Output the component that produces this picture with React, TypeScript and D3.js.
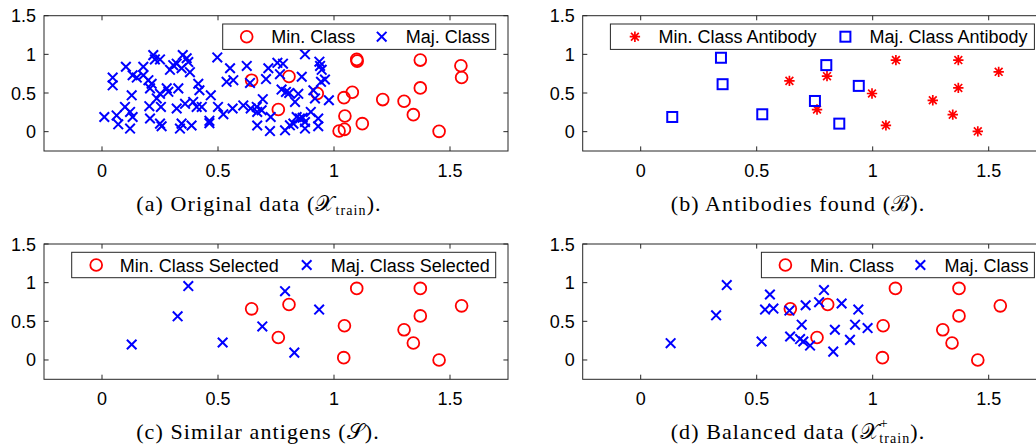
import React, { useEffect, useRef } from 'react';
import * as d3 from 'd3';

type Pt = [number, number];

// axis ticks shared by all four panels
const xTicks = [0, 0.5, 1, 1.5];
const yTicks = [0, 0.5, 1, 1.5];
const tickLabels = ['0', '0.5', '1', '1.5'];

// (a) original data
const originalMinority: Pt[] = [
  [0.645, 0.666], [0.806, 0.714], [0.76, 0.286], [0.928, 0.493], [1.098, 0.935],
  [1.10, 0.913], [1.079, 0.51], [1.043, 0.44], [1.047, 0.203], [1.022, 0.008],
  [1.045, 0.03], [1.122, 0.104], [1.21, 0.415], [1.302, 0.393], [1.342, 0.22],
  [1.372, 0.926], [1.372, 0.566], [1.453, 0.004], [1.547, 0.852], [1.55, 0.70],
];
const originalMajority: Pt[] = [
  [0.01, 0.19], [0.046, 0.70], [0.046, 0.60], [0.063, 0.21], [0.07, 0.095],
  [0.103, 0.84], [0.099, 0.32], [0.121, 0.255], [0.128, 0.47], [0.121, 0.04],
  [0.132, 0.19], [0.132, 0.73], [0.15, 0.70], [0.178, 0.84], [0.178, 0.73],
  [0.2, 0.666], [0.207, 0.56], [0.214, 0.62], [0.204, 0.33], [0.207, 0.17],
  [0.221, 0.99], [0.228, 0.935], [0.25, 0.935], [0.236, 0.43], [0.25, 0.49],
  [0.254, 0.32], [0.25, 0.104], [0.257, 0.07], [0.279, 0.56], [0.286, 0.515],
  [0.293, 0.80], [0.307, 0.86], [0.322, 0.88], [0.329, 0.56], [0.322, 0.30],
  [0.336, 0.04], [0.343, 0.104], [0.343, 0.82], [0.348, 0.99], [0.365, 0.95],
  [0.358, 0.36], [0.372, 0.90], [0.379, 0.77], [0.386, 0.08], [0.393, 0.385],
  [0.408, 0.32], [0.415, 0.62], [0.42, 0.536], [0.43, 0.32], [0.469, 0.47],
  [0.463, 0.11], [0.463, 0.14], [0.497, 0.96], [0.50, 0.32], [0.523, 0.225],
  [0.537, 0.645], [0.552, 0.82], [0.566, 0.666], [0.563, 0.30], [0.624, 0.85],
  [0.609, 0.34], [0.638, 0.63], [0.641, 0.30], [0.667, 0.32], [0.669, 0.08],
  [0.693, 0.42], [0.688, 0.277], [0.669, 0.255], [0.717, 0.82], [0.707, 0.68],
  [0.727, 0.19], [0.724, 0.008], [0.756, 0.89], [0.78, 0.88], [0.767, 0.744],
  [0.774, 0.545], [0.793, 0.514], [0.807, 0.50], [0.832, 0.385], [0.846, 0.49],
  [0.861, 0.71], [0.875, 1.00], [0.911, 0.536], [0.918, 0.43], [0.937, 0.905],
  [0.94, 0.85], [0.947, 0.80], [0.961, 0.675], [0.944, 0.645], [0.978, 0.406],
  [0.789, 0.017], [0.81, 0.082], [0.825, 0.104], [0.839, 0.19], [0.853, 0.17],
  [0.865, 0.18], [0.875, 0.04], [0.875, 0.125], [0.9, 0.255], [0.932, 0.17],
  [0.932, 0.07],
];

// (b) antibodies
const antibodyMinority: Pt[] = [
  [0.641, 0.657], [0.803, 0.718], [0.76, 0.286], [0.997, 0.494], [1.10, 0.926],
  [1.057, 0.082], [1.259, 0.406], [1.345, 0.22], [1.369, 0.926], [1.369, 0.566],
  [1.453, 0.004], [1.543, 0.774],
];
const antibodyMajority: Pt[] = [
  [0.136, 0.19], [0.346, 0.956], [0.353, 0.614], [0.524, 0.225],
  [0.80, 0.861], [0.751, 0.397], [0.856, 0.104], [0.94, 0.592],
];

// (c) similar antigens
const selectedMinority: Pt[] = [
  [0.645, 0.661], [0.806, 0.717], [0.76, 0.29], [1.098, 0.926], [1.045, 0.443],
  [1.042, 0.03], [1.302, 0.39], [1.342, 0.22], [1.372, 0.926], [1.372, 0.57],
  [1.453, 0.0], [1.55, 0.70],
];
const selectedMajority: Pt[] = [
  [0.128, 0.2], [0.326, 0.565], [0.372, 0.956], [0.52, 0.226],
  [0.691, 0.434], [0.789, 0.89], [0.829, 0.095], [0.936, 0.652],
];

// (d) balanced data
const balancedMinority: Pt[] = selectedMinority;
const balancedMajority: Pt[] = [
  [0.129, 0.217], [0.325, 0.578], [0.371, 0.969], [0.521, 0.239], [0.557, 0.847],
  [0.536, 0.652], [0.572, 0.665], [0.641, 0.639], [0.711, 0.708], [0.79, 0.904],
  [0.769, 0.747], [0.866, 0.73], [0.938, 0.652], [0.694, 0.456], [0.924, 0.456],
  [0.978, 0.413], [0.837, 0.391], [0.644, 0.304], [0.687, 0.27], [0.701, 0.239],
  [0.73, 0.186], [0.902, 0.26], [0.83, 0.108],
];

const RED = '#ff0000';
const BLUE = '#0000ff';
const AXIS = '#262626';
const SANS = '"Liberation Sans", Arial, Helvetica, sans-serif';
const SERIF = '"Liberation Serif", "Times New Roman", serif';

type Marker = 'circle' | 'cross' | 'square' | 'star';

function drawMarker(g: any, kind: Marker, cx: number, cy: number) {
  if (kind === 'circle') {
    g.append('circle').attr('cx', cx).attr('cy', cy).attr('r', 5.9)
      .attr('fill', 'none').attr('stroke', RED).attr('stroke-width', 1.8);
  } else if (kind === 'cross') {
    const s = 4.8;
    g.append('path')
      .attr('d', `M${cx - s},${cy - s}L${cx + s},${cy + s}M${cx - s},${cy + s}L${cx + s},${cy - s}`)
      .attr('stroke', BLUE).attr('stroke-width', 2).attr('fill', 'none');
  } else if (kind === 'square') {
    g.append('rect').attr('x', cx - 5).attr('y', cy - 5).attr('width', 10).attr('height', 10)
      .attr('fill', 'none').attr('stroke', BLUE).attr('stroke-width', 2);
  } else {
    const s = 5.2, d = 3.9;
    g.append('path')
      .attr('d', `M${cx - s},${cy}L${cx + s},${cy}M${cx},${cy - s}L${cx},${cy + s}` +
        `M${cx - d},${cy - d}L${cx + d},${cy + d}M${cx - d},${cy + d}L${cx + d},${cy - d}`)
      .attr('stroke', RED).attr('stroke-width', 1.7).attr('fill', 'none');
  }
}

type Series = { data: Pt[]; marker: Marker; label: string };
type Part = { t: string; sub?: boolean; sup?: boolean };

const panels = [
  {
    left: 44, top: 15.7,
    series: [
      { data: originalMinority, marker: 'circle', label: 'Min. Class' },
      { data: originalMajority, marker: 'cross', label: 'Maj. Class' },
    ] as Series[],
    legend: { width: 273, offs: [24, 48.5, 159, 183] },
    captionX: 259,
    caption: [{ t: '(a) Original data (𝒳' }, { t: 'train', sub: true }, { t: ').' }] as Part[],
  },
  {
    left: 582.7, top: 15.7,
    series: [
      { data: antibodyMinority, marker: 'star', label: 'Min. Class Antibody' },
      { data: antibodyMajority, marker: 'square', label: 'Maj. Class Antibody' },
    ] as Series[],
    legend: { width: 424, offs: [24.5, 48, 235, 259] },
    captionX: 798,
    caption: [{ t: '(b) Antibodies found (ℬ).' }] as Part[],
  },
  {
    left: 44, top: 244,
    series: [
      { data: selectedMinority, marker: 'circle', label: 'Min. Class Selected' },
      { data: selectedMajority, marker: 'cross', label: 'Maj. Class Selected' },
    ] as Series[],
    legend: { width: 424, offs: [24.5, 48, 235, 259] },
    captionX: 258,
    caption: [{ t: '(c) Similar antigens (𝒮).' }] as Part[],
  },
  {
    left: 582.7, top: 244,
    series: [
      { data: balancedMinority, marker: 'circle', label: 'Min. Class' },
      { data: balancedMajority, marker: 'cross', label: 'Maj. Class' },
    ] as Series[],
    legend: { width: 273, offs: [24, 48.5, 159, 183] },
    captionX: 798,
    caption: [{ t: '(d) Balanced data (𝒳' }, { t: '+', sup: true }, { t: 'train', sub: true }, { t: ').' }] as Part[],
  },
];

export default function App() {
  const svgRef = useRef<SVGSVGElement>(null);

  useEffect(() => {
    const svg = d3.select(svgRef.current);
    svg.selectAll('*').remove();

    const W = 464, H = 135.3;

    panels.forEach((p) => {
      const x = d3.scaleLinear().domain([-0.25, 1.75]).range([p.left, p.left + W]);
      const y = d3.scaleLinear().domain([-0.25, 1.5]).range([p.top + H, p.top]);
      const g = svg.append('g');

      // box
      g.append('rect').attr('x', p.left).attr('y', p.top).attr('width', W).attr('height', H)
        .attr('fill', 'white').attr('stroke', AXIS).attr('stroke-width', 1);

      // ticks, inward on all sides
      const tl = 4.6;
      xTicks.forEach((t, i) => {
        const px = x(t);
        g.append('line').attr('x1', px).attr('x2', px).attr('y1', p.top + H).attr('y2', p.top + H - tl)
          .attr('stroke', AXIS);
        g.append('line').attr('x1', px).attr('x2', px).attr('y1', p.top).attr('y2', p.top + tl)
          .attr('stroke', AXIS);
        g.append('text').attr('x', px).attr('y', p.top + H + 26).attr('text-anchor', 'middle')
          .attr('font-family', SANS).attr('font-size', 18).attr('fill', '#000').text(tickLabels[i]);
      });
      yTicks.forEach((t, i) => {
        const py = y(t);
        g.append('line').attr('x1', p.left).attr('x2', p.left + tl).attr('y1', py).attr('y2', py)
          .attr('stroke', AXIS);
        g.append('line').attr('x1', p.left + W).attr('x2', p.left + W - tl).attr('y1', py).attr('y2', py)
          .attr('stroke', AXIS);
        g.append('text').attr('x', p.left - 8).attr('y', py + 6.5).attr('text-anchor', 'end')
          .attr('font-family', SANS).attr('font-size', 18).attr('fill', '#000').text(tickLabels[i]);
      });

      // points
      p.series.forEach((s) => {
        const sg = g.append('g');
        s.data.forEach((d) => drawMarker(sg, s.marker, x(d[0]), y(d[1])));
      });

      // legend
      const lx = p.left + W - 12.3 - p.legend.width;
      const ly = p.top + 8.3;
      const lh = 25.4;
      const lg = g.append('g');
      lg.append('rect').attr('x', lx).attr('y', ly).attr('width', p.legend.width).attr('height', lh)
        .attr('fill', 'white').attr('stroke', AXIS).attr('stroke-width', 1);
      p.series.forEach((s, i) => {
        drawMarker(lg, s.marker, lx + p.legend.offs[i * 2], ly + lh / 2);
        lg.append('text').attr('x', lx + p.legend.offs[i * 2 + 1]).attr('y', ly + lh / 2 + 6.5)
          .attr('font-family', SANS).attr('font-size', 18).attr('fill', '#000').text(s.label);
      });

      // caption
      const cy = p.top + H + 59.5;
      const txt = svg.append('text').attr('x', p.captionX).attr('y', cy).attr('text-anchor', 'middle')
        .attr('font-family', SERIF).attr('font-size', 22).attr('letter-spacing', 1.1).attr('fill', '#000');
      let shifted = 0;
      p.caption.forEach((part) => {
        const ts = txt.append('tspan').text(part.t);
        if (part.sup) {
          ts.attr('font-size', 14).attr('dy', -11);
          shifted = -11;
        } else if (part.sub) {
          ts.attr('font-size', 14).attr('dy', 4 - shifted);
          if (shifted !== 0) ts.attr('dx', -9.5);
          shifted = 4;
        } else if (shifted !== 0) {
          ts.attr('dy', -shifted);
          shifted = 0;
        }
      });
    });
  }, []);

  return (
    <svg
      ref={svgRef}
      width={1036}
      height={447}
      viewBox="0 0 1036 447"
      style={{ position: 'absolute', left: 0, top: 0, background: 'white' }}
    />
  );
}
